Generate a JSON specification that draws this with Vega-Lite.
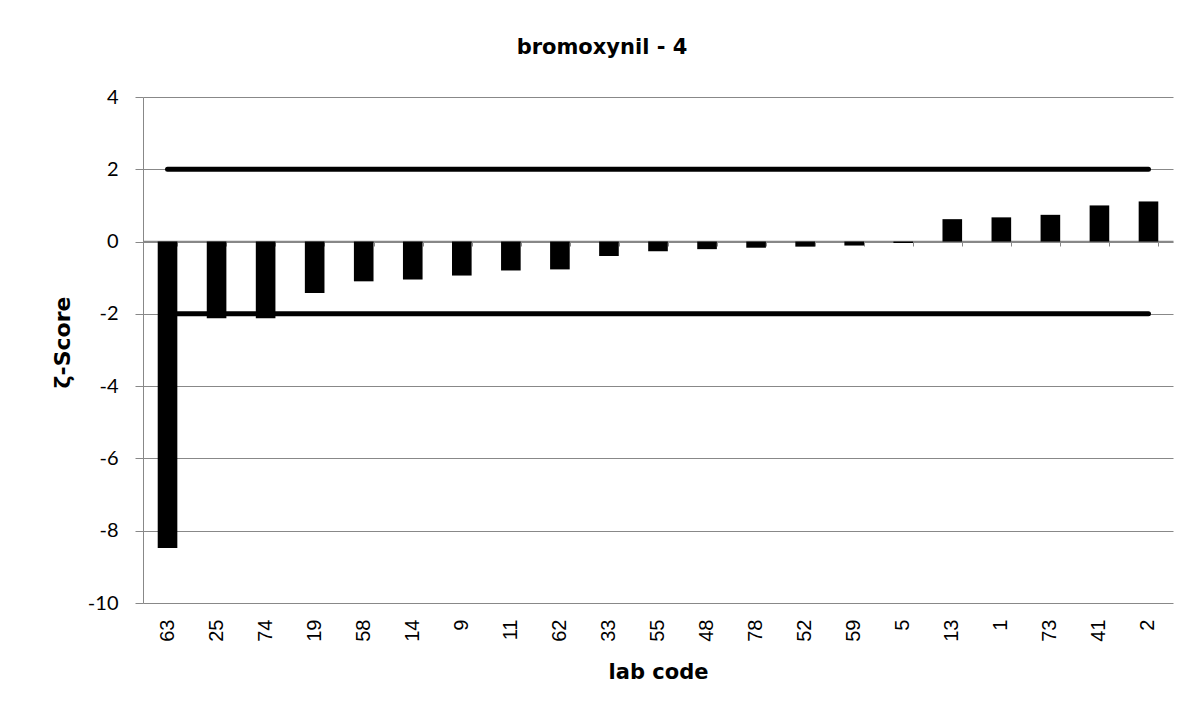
{
  "$schema": "https://vega.github.io/schema/vega-lite/v6.json",
  "width": 1030,
  "height": 506,
  "autosize": "none",
  "padding": {"left": 143, "top": 97, "right": 24, "bottom": 112},
  "background": "white",
  "config": {"view": {"stroke": null}},
  "title": {
    "text": "bromoxynil - 4",
    "font": "DejaVu Sans",
    "fontSize": 21,
    "fontWeight": "bold",
    "color": "black",
    "anchor": "middle",
    "baseline": "alphabetic",
    "offset": 12,
    "dx": -56
  },
  "datasets": {
    "scores": [
      {"lab": "63", "score": -8.48},
      {"lab": "25", "score": -2.12},
      {"lab": "74", "score": -2.12},
      {"lab": "19", "score": -1.42},
      {"lab": "58", "score": -1.10},
      {"lab": "14", "score": -1.05},
      {"lab": "9", "score": -0.94},
      {"lab": "11", "score": -0.80},
      {"lab": "62", "score": -0.77},
      {"lab": "33", "score": -0.40},
      {"lab": "55", "score": -0.27},
      {"lab": "48", "score": -0.21},
      {"lab": "78", "score": -0.17},
      {"lab": "52", "score": -0.14},
      {"lab": "59", "score": -0.11},
      {"lab": "5", "score": -0.04},
      {"lab": "13", "score": 0.62},
      {"lab": "1", "score": 0.67},
      {"lab": "73", "score": 0.74},
      {"lab": "41", "score": 1.00},
      {"lab": "2", "score": 1.11}
    ],
    "limits": [
      {"lab": "63", "lim": 2, "grp": "upper"},
      {"lab": "2", "lim": 2, "grp": "upper"},
      {"lab": "63", "lim": -2, "grp": "lower"},
      {"lab": "2", "lim": -2, "grp": "lower"}
    ]
  },
  "layer": [
    {
      "data": {"name": "scores"},
      "mark": {"type": "bar", "color": "black"},
      "encoding": {
        "x": {
          "field": "lab",
          "type": "nominal",
          "sort": null,
          "scale": {"paddingInner": 0.6, "paddingOuter": 0.3},
          "axis": {
            "orient": "bottom",
            "title": "lab code",
            "titleFont": "DejaVu Sans",
            "titleFontSize": 21,
            "titleFontWeight": "bold",
            "titleColor": "black",
            "titleBaseline": "alphabetic",
            "titleY": 75,
            "labelAngle": 270,
            "labelFont": "Liberation Sans",
            "labelFontSize": 20,
            "labelColor": "black",
            "labelPadding": 16,
            "domain": false,
            "ticks": false,
            "grid": false
          }
        },
        "y": {
          "field": "score",
          "type": "quantitative",
          "title": "ζ-Score",
          "scale": {"domain": [-10, 4], "nice": false, "zero": false},
          "axis": {
            "title": "ζ-Score",
            "titleFont": "DejaVu Sans",
            "titleFontSize": 22,
            "titleFontWeight": "bold",
            "titleColor": "black",
            "titleAngle": 270,
            "titleBaseline": "alphabetic",
            "titleAlign": "center",
            "titleX": -74,
            "titleY": 245,
            "values": [-10, -8, -6, -4, -2, 0, 2, 4],
            "labelExpr": "'' + datum.value",
            "labelFont": "Lato",
            "labelFontSize": 20,
            "labelColor": "black",
            "labelPadding": 17,
            "tickSize": 8,
            "tickColor": "#888888",
            "domainColor": "#888888",
            "gridColor": "#888888",
            "grid": true
          }
        }
      }
    },
    {
      "data": {"name": "limits"},
      "mark": {"type": "line", "color": "black", "strokeWidth": 5, "strokeCap": "round"},
      "encoding": {
        "x": {
          "field": "lab",
          "type": "nominal",
          "sort": null,
          "axis": {
            "orient": "bottom",
            "offset": -362,
            "labels": false,
            "title": null,
            "ticks": true,
            "tickBand": "extent",
            "tickSize": 5,
            "tickColor": "#888888",
            "domainColor": "#888888",
            "domainWidth": 1.5,
            "grid": false
          }
        },
        "y": {"field": "lim", "type": "quantitative", "title": "ζ-Score"},
        "detail": {"field": "grp"}
      }
    }
  ],
  "resolve": {"axis": {"x": "independent"}}
}
